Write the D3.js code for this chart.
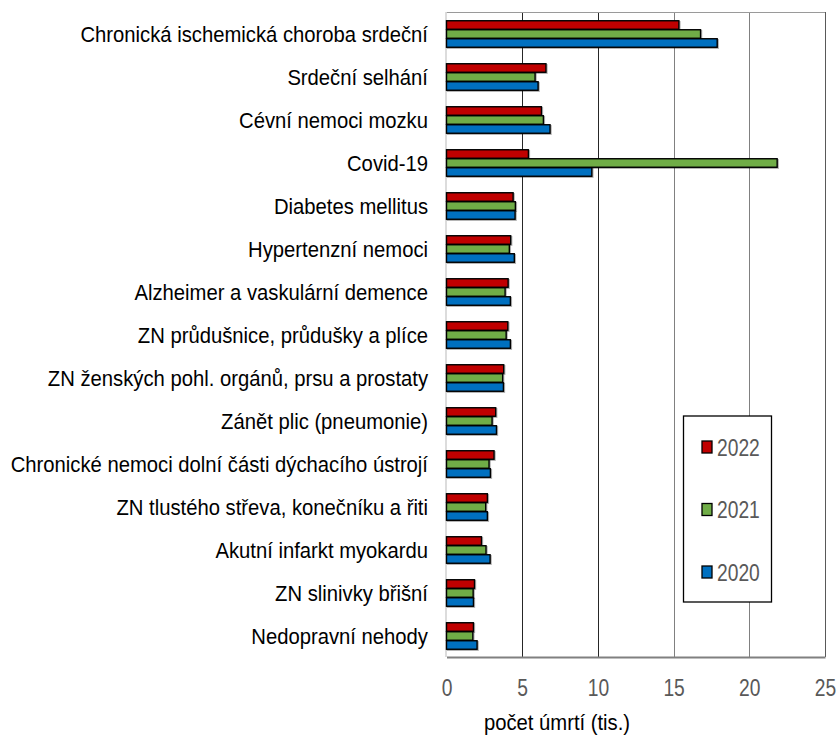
<!DOCTYPE html>
<html><head><meta charset="utf-8">
<script src="https://cdn.jsdelivr.net/npm/d3@7"></script>
<style>body{margin:0;background:#fff}svg{display:block}</style>
</head><body>
<svg id="c" width="838" height="744"></svg>
<script>
const categories = [
  "Chronická ischemická choroba srdeční",
  "Srdeční selhání",
  "Cévní nemoci mozku",
  "Covid-19",
  "Diabetes mellitus",
  "Hypertenzní nemoci",
  "Alzheimer a vaskulární demence",
  "ZN průdušnice, průdušky a plíce",
  "ZN ženských pohl. orgánů, prsu a prostaty",
  "Zánět plic (pneumonie)",
  "Chronické nemoci dolní části dýchacího ústrojí",
  "ZN tlustého střeva, konečníku a řiti",
  "Akutní infarkt myokardu",
  "ZN slinivky břišní",
  "Nedopravní nehody"
];
const series = ["2022", "2021", "2020"];
const values2022 = [15.35, 6.57, 6.27, 5.41, 4.40, 4.24, 4.07, 4.05, 3.78, 3.25, 3.14, 2.70, 2.31, 1.85, 1.78];
const values2021 = [16.78, 5.85, 6.40, 21.84, 4.55, 4.15, 3.87, 3.94, 3.71, 3.01, 2.81, 2.59, 2.61, 1.76, 1.74];
const values2020 = [17.88, 6.05, 6.84, 9.60, 4.53, 4.48, 4.22, 4.22, 3.76, 3.30, 2.90, 2.70, 2.88, 1.78, 2.02];
const xTicks = [0, 5, 10, 15, 20, 25];
const colors = ["#C00000", "#70AD47", "#0070C0"];
const xTitle = "počet úmrtí (tis.)";

const valuesBySeries = [values2022, values2021, values2020];
const FONT = "'Liberation Sans', Arial, sans-serif";
const svg = d3.select("#c");
const L = 446.5, R = 825, T = 12, B = 657;

const x = d3.scaleLinear().domain([0, 25]).range([L, R]);
const y = d3.scaleBand().domain(categories).range([T, B]).paddingInner(0.372).paddingOuter(0.186);
const yi = d3.scaleBand().domain(series).range([0, y.bandwidth()]);
const color = d3.scaleOrdinal().domain(series).range(colors);

const defs = svg.append("defs");
const f = defs.append("filter").attr("id", "sh").attr("x", "-5%").attr("y", "-20%").attr("width", "120%").attr("height", "160%");
f.append("feDropShadow").attr("dx", 1).attr("dy", 1).attr("stdDeviation", 0.4).attr("flood-color", "#000").attr("flood-opacity", 0.3);

// gridlines
svg.append("g").selectAll("line").data(xTicks.filter(d => d > 0)).join("line")
  .attr("x1", d => Math.round(x(d)) + 0.5).attr("x2", d => Math.round(x(d)) + 0.5)
  .attr("y1", T).attr("y2", B)
  .attr("stroke", d => d === 25 ? "#595959" : (d <= 10 ? "#262626" : "#808080")).attr("stroke-width", 1);
// top border
svg.append("line").attr("x1", L).attr("x2", R).attr("y1", T + 0.5).attr("y2", T + 0.5).attr("stroke", "#9a9a9a").attr("stroke-width", 1);
// left axis line
svg.append("line").attr("x1", L - 0.5).attr("x2", L - 0.5).attr("y1", T).attr("y2", B).attr("stroke", "#d0d0d0").attr("stroke-width", 1.5);

// bars
const rows = categories.map((c, i) => ({ c, vals: series.map((s, k) => ({ s, v: valuesBySeries[k][i] })) }));
svg.append("g").selectAll("g").data(rows).join("g")
  .attr("transform", d => `translate(0,${y(d.c)})`)
  .selectAll("rect").data(d => d.vals).join("rect")
  .attr("x", x(0)).attr("y", d => yi(d.s) + 0.75)
  .attr("width", d => x(d.v) - x(0)).attr("height", yi.bandwidth() - 0.5)
  .attr("fill", d => color(d.s)).attr("stroke", "#000").attr("stroke-width", 1.4)
  .attr("filter", "url(#sh)");

// bottom axis
const xAxis = d3.axisBottom(x).tickValues(xTicks).tickSize(0).tickPadding(0);
const ax = svg.append("g").attr("transform", `translate(0,${B})`).call(xAxis);
ax.select(".domain").attr("stroke", "#808080").attr("stroke-width", 2);
ax.selectAll(".tick text").attr("font-family", FONT).attr("font-size", 23.5).attr("fill", "#595959")
  .attr("y", 0).attr("dy", 0)
  .attr("transform", `translate(0,38.5) scale(0.82,1)`);

// category labels
const yAxis = d3.axisLeft(y).tickSize(0).tickPadding(0);
const ay = svg.append("g").attr("transform", `translate(428,0)`).call(yAxis);
ay.select(".domain").remove();
ay.selectAll(".tick text").attr("font-family", FONT).attr("font-size", 22.5).attr("fill", "#000")
  .attr("x", 0).attr("dy", "0.36em")
  .attr("transform", "scale(0.9,1)");

// x title
svg.append("text").attr("transform", "translate(557,730) scale(0.9,1)")
  .attr("text-anchor", "middle").attr("font-family", FONT).attr("font-size", 22.5).attr("fill", "#000")
  .text(xTitle);

// legend
const lg = svg.append("g");
lg.append("rect").attr("x", 683.5).attr("y", 416).attr("width", 88).attr("height", 186)
  .attr("fill", "#fff").attr("stroke", "#000").attr("stroke-width", 1.3);
const legY = d3.scalePoint().domain(series).range([447, 572]);
const li = lg.selectAll("g.li").data(series).join("g").attr("class", "li")
  .attr("transform", d => `translate(702,${legY(d)})`);
li.append("rect").attr("x", 0).attr("y", -6).attr("width", 10).attr("height", 12)
  .attr("fill", d => color(d)).attr("stroke", "#000").attr("stroke-width", 1.3);
li.append("text").attr("transform", "translate(15,8.5) scale(0.82,1)")
  .attr("font-family", FONT).attr("font-size", 23.5).attr("fill", "#595959").text(d => d);
</script>
</body></html>
